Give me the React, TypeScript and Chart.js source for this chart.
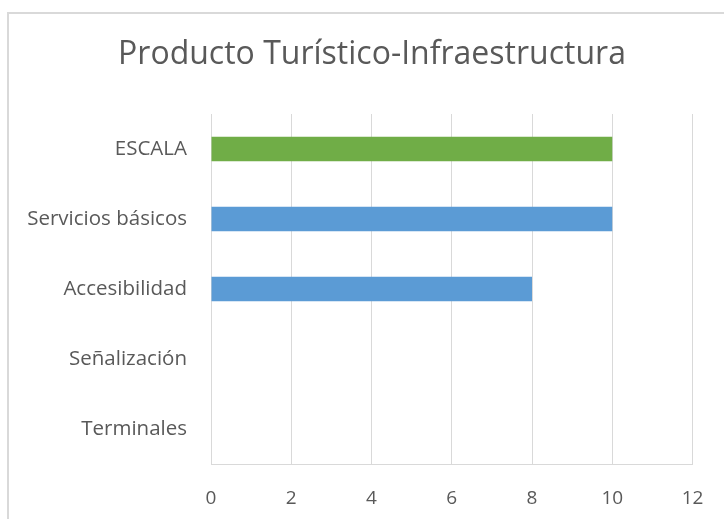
import React, { useEffect, useRef } from "react";
import { Chart, registerables } from "chart.js";

Chart.register(...registerables);

const categories = ["ESCALA", "Servicios básicos", "Accesibilidad", "Señalización", "Terminales"];
const values = [10, 10, 8, 0, 0];
const barColors = ["#70ad47", "#5b9bd5", "#5b9bd5", "#5b9bd5", "#5b9bd5"];
const titleText = "Producto Turístico-Infraestructura";
const xMin = 0;
const xMax = 12;
const xStep = 2;

const FONT = "'Open Sans', 'Noto Sans', sans-serif";
const TEXT = "#595959";
const GRID = "#d9d9d9";

const titlePlugin = {
  id: "customTitle",
  afterDraw(chart: any) {
    const ctx = chart.ctx;
    ctx.save();
    ctx.fillStyle = TEXT;
    ctx.font = `32px ${FONT}`;
    ctx.textAlign = "center";
    ctx.textBaseline = "middle";
    ctx.fillText(titleText, 372, 55);
    ctx.restore();
  },
};

export default function App() {
  const ref = useRef<HTMLCanvasElement | null>(null);
  useEffect(() => {
    if (!ref.current) return;
    const chart = new Chart(ref.current, {
      type: "bar",
      data: {
        labels: categories,
        datasets: [
          {
            data: values,
            backgroundColor: barColors,
            borderWidth: 0,
            barPercentage: 0.7,
            categoryPercentage: 0.5,
          },
        ],
      },
      options: {
        indexAxis: "y",
        animation: false,
        responsive: false,
        maintainAspectRatio: false,
        devicePixelRatio: 1,
        layout: { padding: { left: 0, right: 31.5, top: 114, bottom: 0 } },
        plugins: {
          legend: { display: false },
          tooltip: { enabled: false },
          title: { display: false },
        },
        scales: {
          x: {
            min: xMin,
            max: xMax,
            ticks: {
              stepSize: xStep,
              color: TEXT,
              font: { family: FONT, size: 19 },
              padding: 23,
            },
            grid: { color: GRID, lineWidth: 1, drawTicks: false },
            border: { display: true, color: GRID, width: 1 },
            afterFit: (s: any) => {
              s.height = 55;
              s.paddingLeft = 0;
              s.paddingRight = 0;
            },
          },
          y: {
            ticks: {
              color: TEXT,
              font: { family: FONT, size: 20.5 },
              padding: 24,
            },
            grid: { display: false, drawTicks: false },
            border: { display: false },
            afterFit: (s: any) => {
              s.width = 211;
              s.paddingTop = 0;
              s.paddingBottom = 0;
            },
          },
        },
      },
      plugins: [titlePlugin],
    });
    return () => chart.destroy();
  }, []);
  return (
    <div style={{ position: "fixed", left: 0, top: 0, width: 724, height: 519, background: "#fff", overflow: "hidden" }}>
      <div
        style={{
          position: "absolute",
          left: 7,
          top: 12,
          width: 740,
          height: 540,
          borderTop: "2px solid #d9d9d9",
          borderLeft: "2px solid #d9d9d9",
          boxSizing: "border-box",
        }}
      />
      <canvas ref={ref} width={724} height={519} style={{ position: "absolute", left: 0, top: 0, display: "block" }} />
    </div>
  );
}
